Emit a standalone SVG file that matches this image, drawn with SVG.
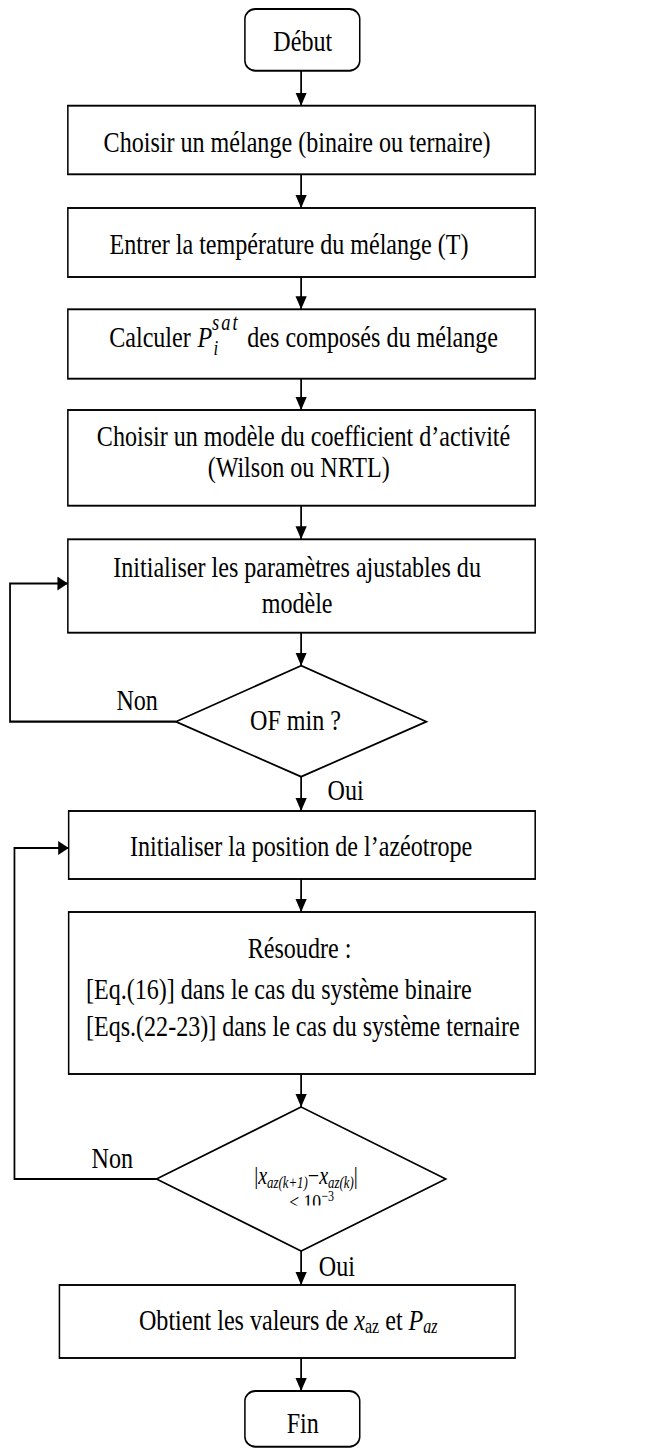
<svg xmlns="http://www.w3.org/2000/svg" width="649" height="1448" viewBox="0 0 649 1448">
  <style>
    .box { fill: #ffffff; stroke: #000000; stroke-width: 1.9; }
    .term { fill: #ffffff; stroke: #000000; stroke-width: 1.9; }
    .dec { fill: #ffffff; stroke: #000000; stroke-width: 1.8; }
    .wire { fill: none; stroke: #000000; stroke-width: 2.2; }
    .t { font-family: "Liberation Serif", "Times New Roman", serif; font-size: 30px; fill: #000000; }
    .m { font-family: "Liberation Serif", "Times New Roman", serif; fill: #000000; }
    .c { text-anchor: middle; }
    .i { font-style: italic; }
  </style>
  <defs>
    <marker id="arrow" markerUnits="userSpaceOnUse" markerWidth="15" markerHeight="15" refX="13" refY="7" orient="auto">
      <path d="M0,0 L13,7 L0,14 Z" fill="#000000"/>
    </marker>
    <clipPath id="clipTol">
      <rect x="180" y="1150" width="400" height="55.5"/>
    </clipPath>
  </defs>
  <rect x="0" y="0" width="649" height="1448" fill="#ffffff"/>

  <!-- the whole chart is laid out on a wider grid and condensed horizontally -->
  <g transform="scale(0.803 1)">

    <!-- connectors -->
    <g id="connectors">
      <line class="wire" x1="375" y1="70.7" x2="375" y2="105.7" marker-end="url(#arrow)"/>
      <line class="wire" x1="375" y1="174.3" x2="375" y2="208" marker-end="url(#arrow)"/>
      <line class="wire" x1="375" y1="277" x2="375" y2="309.3" marker-end="url(#arrow)"/>
      <line class="wire" x1="375" y1="378.7" x2="375" y2="410" marker-end="url(#arrow)"/>
      <line class="wire" x1="375" y1="505.7" x2="375" y2="539.3" marker-end="url(#arrow)"/>
      <line class="wire" x1="375" y1="632.7" x2="375" y2="665.7" marker-end="url(#arrow)"/>
      <line class="wire" x1="375" y1="776.7" x2="375" y2="811" marker-end="url(#arrow)"/>
      <line class="wire" x1="375" y1="879" x2="375" y2="912" marker-end="url(#arrow)"/>
      <line class="wire" x1="375" y1="1074" x2="375" y2="1107" marker-end="url(#arrow)"/>
      <line class="wire" x1="375" y1="1251" x2="375" y2="1285" marker-end="url(#arrow)"/>
      <line class="wire" x1="375" y1="1358" x2="375" y2="1391" marker-end="url(#arrow)"/>
      <!-- OF min ? : Non -> back to parameter initialisation -->
      <polyline class="wire" points="219,721.7 12.5,721.7 12.5,583.5 84.5,583.5" marker-end="url(#arrow)"/>
      <!-- convergence test : Non -> back to azeotrope initialisation -->
      <polyline class="wire" points="195,1179 18,1179 18,848 85.5,848" marker-end="url(#arrow)"/>
      <text class="t" x="145" y="710">Non</text>
      <text class="t" x="408" y="800">Oui</text>
      <text class="t" x="114" y="1168">Non</text>
      <text class="t" x="397" y="1276">Oui</text>
    </g>

    <g id="debut">
      <rect class="term" x="305" y="9" width="143" height="61.7" rx="13" ry="10"/>
      <text class="t c" x="377" y="51">Début</text>
    </g>

    <g id="melange">
      <rect class="box" x="84.5" y="105.7" width="582" height="68.6"/>
      <text class="t c" x="370" y="152">Choisir un mélange (binaire ou ternaire)</text>
    </g>

    <g id="temperature">
      <rect class="box" x="84.5" y="208" width="582" height="69"/>
      <text class="t c" x="360" y="254">Entrer la température du mélange (T)</text>
    </g>

    <g id="psat">
      <rect class="box" x="84.5" y="309.3" width="582" height="69.4"/>
      <text class="t">
        <tspan x="136" y="347">Calculer</tspan>
        <tspan class="i" x="246" y="347">P</tspan>
        <tspan class="i" x="264" y="330" font-size="23" letter-spacing="2.5">sat</tspan>
        <tspan class="i" x="266" y="355" font-size="21">i</tspan>
        <tspan x="308" y="347">des composés du mélange</tspan>
      </text>
    </g>

    <g id="modele">
      <rect class="box" x="84.5" y="410" width="582" height="95.7"/>
      <text class="t c" x="378" y="446">Choisir un modèle du coefficient d’activité</text>
      <text class="t c" x="372" y="477">(Wilson ou NRTL)</text>
    </g>

    <g id="parametres">
      <rect class="box" x="84.5" y="539.3" width="582" height="93.4"/>
      <text class="t c" x="370" y="577">Initialiser les paramètres ajustables du</text>
      <text class="t c" x="370" y="613">modèle</text>
    </g>

    <g id="of-min">
      <polygon class="dec" points="375,665.7 531,721.7 375,776.7 219,721.7"/>
      <text class="t c" x="368" y="730">OF min ?</text>
    </g>

    <g id="position">
      <rect class="box" x="85.5" y="811" width="581" height="68"/>
      <text class="t c" x="375" y="856">Initialiser la position de l’azéotrope</text>
    </g>

    <g id="resoudre">
      <rect class="box" x="85.5" y="912" width="581" height="162"/>
      <text class="t c" x="373" y="958">Résoudre :</text>
      <text class="t" x="107" y="999">[Eq.(16)] dans le cas du système binaire</text>
      <text class="t" x="107" y="1036">[Eqs.(22-23)] dans le cas du système ternaire</text>
    </g>

    <g id="convergence">
      <polygon class="dec" points="375,1107 555,1179 375,1251 195,1179"/>
      <g clip-path="url(#clipTol)">
        <text class="m c" x="381" y="1184" font-size="25"><tspan>|</tspan><tspan class="i">x</tspan><tspan class="i" font-size="16" dy="4">az(k+1)</tspan><tspan dy="-4">−</tspan><tspan class="i">x</tspan><tspan class="i" font-size="16" dy="4">az(k)</tspan><tspan dy="-4">|</tspan></text>
        <text class="m c" x="388" y="1209" font-size="22">&lt; 10<tspan font-size="15" dy="-8">−3</tspan></text>
      </g>
    </g>

    <g id="resultats">
      <rect class="box" x="74" y="1285" width="567.5" height="73"/>
      <text class="t c" x="359" y="1330">Obtient les valeurs de <tspan class="i">x</tspan><tspan font-size="20" dy="3">az</tspan><tspan dy="-3"> et </tspan><tspan class="i">P</tspan><tspan class="i" font-size="20" dy="3">az</tspan></text>
    </g>

    <g id="fin">
      <rect class="term" x="305" y="1391" width="143" height="55.7" rx="13" ry="10"/>
      <text class="t c" x="377" y="1433">Fin</text>
    </g>
  </g>
</svg>
